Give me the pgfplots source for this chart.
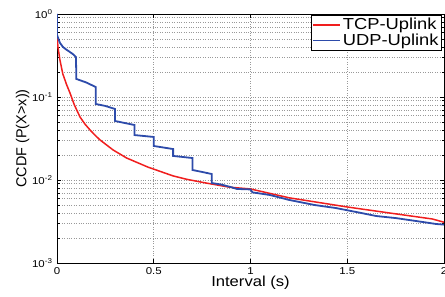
\documentclass[border=0pt]{standalone}
\usepackage{pgfplots}
\pgfplotsset{compat=1.18}
\usepackage{fontspec}
\setmainfont{Liberation Sans}[FakeStretch=1.15]
\newfontfamily\plainsans{Liberation Sans}
\definecolor{tcpred}{RGB}{240,30,30}
\definecolor{udpblue}{RGB}{45,75,170}
\begin{document}
\begin{tikzpicture}
\begin{axis}[
  name=ax,
  scale only axis,
  width=387bp, height=249bp,
  xmin=0, xmax=2,
  ymode=log, ymin=1e-3, ymax=1,
  xtick={0,0.5,1,1.5,2},
  xticklabels={0,0.5,1,1.5,2},
  ytick={1e-3,1e-2,1e-1,1},
  yticklabels={10\textsuperscript{-3},10\textsuperscript{-2},10\textsuperscript{-1},10\textsuperscript{0}},
  tick align=inside,
  major tick length=4bp, minor tick length=2.5bp,
  tick style={black, line width=0.6bp},
  axis line style={black, line width=0.9bp},
  xmajorgrids, ymajorgrids, yminorgrids,
  major grid style={gray!80, dotted, line width=0.6bp},
  minor grid style={gray!80, dotted, line width=0.6bp},
  ticklabel style={font=\fontsize{10}{12}\selectfont},
  xticklabel style={yshift=-1bp},
  yticklabel style={xshift=-1bp},
  xlabel={Interval (s)},
  ylabel={\plainsans CCDF (P(X>x))},
  label style={font=\fontsize{14.5}{16}\selectfont},
  xlabel style={yshift=5bp},
  ylabel style={yshift=-4bp},
  legend style={at={(1,1)}, anchor=north east, xshift=-2bp, yshift=-1bp,
    draw=black, line width=0.8bp, font=\fontsize{16}{17}\selectfont,
    inner sep=1bp, row sep=-1.5bp},
  legend cell align=left,
  legend image code/.code={\draw[#1, line width=1.2bp] (0bp,0bp) -- (27bp,0bp);},
]
\addplot[tcpred, line width=1.5bp] coordinates {
(0,0.56) (0.005,0.40) (0.015,0.28) (0.03,0.19) (0.05,0.14) (0.067,0.112)
(0.09,0.08) (0.119,0.0574) (0.145,0.047) (0.171,0.040) (0.2,0.034)
(0.223,0.0303) (0.29,0.023) (0.36,0.0184) (0.47,0.0143) (0.6,0.0112)
(0.67,0.0102) (0.77,0.0092) (0.89,0.0082) (1.0,0.0078) (1.2,0.0061)
(1.5,0.00473) (1.72,0.0040) (1.94,0.00339) (2.0,0.0031)
};
\addlegendentry{TCP-Uplink}
\addplot[udpblue, line width=1.8bp] coordinates {
(0,1) (0,0.56) (0.015,0.45) (0.031,0.40) (0.05,0.37) (0.067,0.348)
(0.085,0.325) (0.098,0.303) (0.1,0.165) (0.15,0.15) (0.2,0.132)
(0.2,0.0824) (0.25,0.078) (0.3,0.0717) (0.3,0.0514) (0.4,0.046)
(0.4,0.0348) (0.5,0.033) (0.5,0.0257) (0.6,0.0236) (0.6,0.0195)
(0.7,0.0184) (0.7,0.0132) (0.75,0.0125) (0.8,0.0118) (0.8,0.0092)
(0.85,0.0088) (0.9,0.0082) (0.93,0.0078) (1.0,0.0077) (1.01,0.0071)
(1.1,0.0066) (1.2,0.00575) (1.33,0.0050) (1.44,0.0046) (1.55,0.0041)
(1.65,0.00368) (1.75,0.00348) (1.89,0.00312) (1.96,0.00295) (2.0,0.0029)
};
\addlegendentry{UDP-Uplink}
\end{axis}
\pgfresetboundingbox
\path ([xshift=-57bp,yshift=-34bp]ax.south west) rectangle ([xshift=1bp,yshift=14bp]ax.north east);
\end{tikzpicture}
\end{document}
